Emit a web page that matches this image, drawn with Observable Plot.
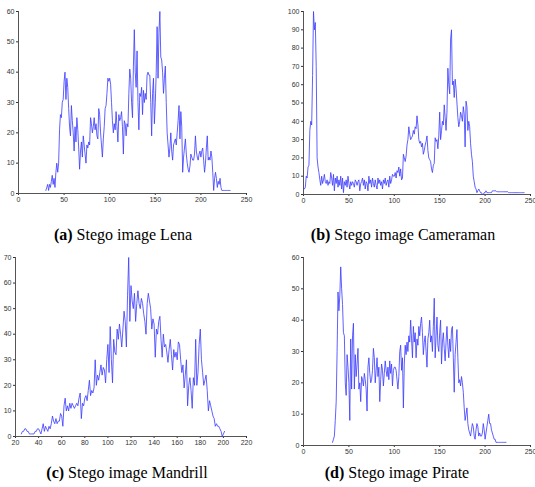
<!DOCTYPE html>
<html>
<head>
<meta charset="utf-8">
<script src="https://cdn.jsdelivr.net/npm/d3@7"></script>
<script src="https://cdn.jsdelivr.net/npm/@observablehq/plot@0.6"></script>
<style>
  html, body { margin: 0; padding: 0; background: #fff; }
  #wrap { position: relative; width: 535px; height: 487px; overflow: hidden; background: #fff; }
  .panel { position: absolute; }
  .cap { position: absolute; font-family: "Liberation Serif", "Times New Roman", serif; font-size: 16px; color: #000; white-space: nowrap; transform: translateX(-50%); }
  .cap b { font-weight: bold; }
</style>
</head>
<body>
<div id="wrap"></div>
<script>
// ---------- data (grey level -> pixel count) ----------
const captions = ["(a)", "(b)", "(c)", "(d)"];
const captionTexts = ["Stego image Lena", "Stego image Cameraman", "Stego image Mandrill", "Stego image Pirate"];

const lenaStart = 30;
const lenaCounts = [
  1,2,3,1,3,2,4,6,3,5, 2,7,10,7,10,21,26,25,30,31, 37,40,31,38,35,28,22,19,29,24,
  20,14,22,17,25,21,15,8,14,17, 12,19,16,13,10,16,15,17,16,25, 23,20,22,25,21,23,19,18,28,26,
  20,16,12,18,22,28,29,33,38,37, 38,36,30,24,20,23,21,27,22,17, 26,24,25,27,22,13,24,23,19,23,
  22,33,41,38,30,25,42,54,40,35, 47,30,21,33,32,35,26,34,30,33, 31,39,40,39,39,30,19,33,38,23,
  30,40,55,38,53,60,45,44,40,33, 38,42,30,20,16,12,15,20,14,11, 16,17,18,16,20,24,29,18,27,22,
  7,12,15,18,13,10,8,7,9,13, 12,11,11,13,19,14,12,11,13,14, 12,14,15,11,7,10,15,19,11,12,
  11,14,12,7,1,5,7,5,2,4, 3,5,2,1,1,1,1,1,1,1, 1,1,1
];

const cameraStart = 0;
const cameraCounts = [
  3,3,4,10,9,15,16,35,40,38, 65,100,90,94,70,20,15,12,8,5,
  10,6,8,11,7,6,8,5,7,6, 12,9,5,11,2,9,6,10,4,8,
  5,10,3,9,1,7,5,8,4,10, 6,3,7,5,7,6,4,8,7,5,
  7,8,2,6,7,9,5,8,3,7, 6,2,10,6,8,4,9,6,4,8,
  5,3,9,6,8,5,7,3,8,6, 9,5,7,8,4,10,6,8,11,10,
  10,12,9,13,12,15,10,14,8,9, 22,20,18,21,27,30,37,33,30,31,
  32,35,33,37,36,43,38,30,28,29, 26,28,22,24,27,29,32,24,20,19,
  18,14,12,16,17,31,29,30,25,32, 45,30,35,40,38,49,42,35,45,69,
  60,55,85,90,60,62,53,63,58,50, 42,37,40,45,43,40,48,44,26,51,
  48,35,40,37,28,22,18,10,7,4, 3,1,2,3,2,1,1,0,0,1,
  1,2,1,1,1,1,1,1,2,2, 2,2,2,1.5,1.5,1.5,1.5,1.5,1.5,1.5,
  1.5,1.5,1.5,1.5,1.5,1.5,1,1,1,1, 1,1,1,1,1,1,1,1,1,1,
  1,1,1,1
];

const mandrillStart = 25;
const mandrillCounts = [
  1,2,2,3,3,2,2,1,1,1, 1,1,2,2,3,3,2,1,3,5, 2,4,3,2,4,3,
  5,8,6,5,7,5,6,6,9,8, 4,12,15,10,12,10,13,11,13,12, 11,12,13,12,15,17,7,13,12,15,
  16,14,18,22,16,18,17,19,30,20, 24,22,25,28,24,27,26,21,30,36,
  25,43,30,21,38,33,32,42,38,44, 40,35,42,49,45,35,55,70,45,59,
  53,50,56,45,52,57,52,50,54,52, 48,45,40,52,56,53,50,42,46,44,
  31,42,40,45,47,38,31,40,35,36, 33,29,34,38,32,26,34,31,33,30,
  37,36,30,25,28,19,24,30,12,20, 23,18,11,23,20,38,20,25,36,42,
  30,25,20,22,24,18,10,14,12,10, 8,7,4,5,4,4,3,2,0,1, 2
];

const pirateStart = 32;
const pirateCounts = [
  1,2,3,8,14,30,49,43,48,57, 50,45,36,35,20,16,29,25,20,
  8,34,18,35,39,18,29,22,26,31, 18,20,14,22,21,19,23,21,18,11,
  25,28,23,20,21,24,31,28,20,24, 28,22,25,14,21,26,24,19,23,27,
  24,22,25,21,27,23,26,19,24,25, 25,24,21,18,22,30,32,24,28,12,
  26,32,29,33,30,35,33,40,34,28, 38,33,36,28,34,32,38,35,39,41,
  36,29,33,35,30,25,34,36,40,33, 35,30,38,47,28,35,41,32,30,36,
  40,26,33,36,31,27,33,38,32,28, 34,30,37,38,28,17,29,33,37,28,
  20,21,19,22,20,17,12,8,10,12, 7,5,4,3,5,7,6,3,2,5,
  7,6,3,4,3,3,4,7,5,2, 4,6,8,10,7,7,5,4,3,2,
  2,1,1,1,1,1,1,1,1,1, 1,1,1
];

// ---------- axis settings ----------
const xDomains = [[0, 250], [0, 250], [20, 220], [0, 250]];
const yDomains = [[0, 60], [0, 100], [0, 70], [0, 60]];
const xTicks = [d3.range(0, 251, 50), d3.range(0, 251, 50), d3.range(20, 221, 20), d3.range(0, 251, 50)];
const yTicks = [d3.range(0, 61, 10), d3.range(0, 101, 10), d3.range(0, 71, 10), d3.range(0, 61, 10)];

const series = [
  [lenaStart, lenaCounts],
  [cameraStart, cameraCounts],
  [mandrillStart, mandrillCounts],
  [pirateStart, pirateCounts]
];

// panel boxes: left, top, width, height, margins [t, r, b, l]
const boxes = [
  {left: 0,   top: 0,   width: 267, height: 210, m: [11, 21, 17, 18]},
  {left: 267, top: 0,   width: 268, height: 210, m: [11, 5, 16, 36]},
  {left: 0,   top: 250, width: 267, height: 210, m: [7, 21, 24, 15]},
  {left: 267, top: 250, width: 268, height: 210, m: [7, 5, 15, 36]}
];
const capPos = [[123, 226], [403, 226], [127, 464], [397, 464]];

const wrap = document.getElementById("wrap");
const axisColor = "#555";
const lineColor = "#3b3bff";

series.forEach(([start, counts], i) => {
  const data = counts.map((c, k) => ({x: start + k, y: c}));
  const b = boxes[i];
  const chart = Plot.plot({
    width: b.width,
    height: b.height,
    marginTop: b.m[0], marginRight: b.m[1], marginBottom: b.m[2], marginLeft: b.m[3],
    style: {fontFamily: "Liberation Sans, Arial, sans-serif", fontSize: "7px", color: "#333", background: "transparent", overflow: "visible"},
    x: {domain: xDomains[i], ticks: xTicks[i], tickSize: 2, tickPadding: 2, label: null, tickFormat: d3.format("d")},
    y: {domain: yDomains[i], ticks: yTicks[i], tickSize: 2, tickPadding: 2, label: null, tickFormat: d3.format("d")},
    marks: [
      Plot.ruleY([yDomains[i][0]], {stroke: axisColor, strokeWidth: 1}),
      Plot.ruleX([xDomains[i][0]], {stroke: axisColor, strokeWidth: 1}),
      Plot.line(data, {x: "x", y: "y", stroke: lineColor, strokeWidth: 0.9, strokeOpacity: 0.9})
    ]
  });
  const div = document.createElement("div");
  div.className = "panel";
  div.style.left = b.left + "px";
  div.style.top = b.top + "px";
  div.appendChild(chart);
  wrap.appendChild(div);

  const cap = document.createElement("div");
  cap.className = "cap";
  cap.style.left = capPos[i][0] + "px";
  cap.style.top = capPos[i][1] + "px";
  const bb = document.createElement("b");
  bb.textContent = captions[i];
  cap.appendChild(bb);
  cap.appendChild(document.createTextNode(" " + captionTexts[i]));
  wrap.appendChild(cap);
});
</script>
</body>
</html>
